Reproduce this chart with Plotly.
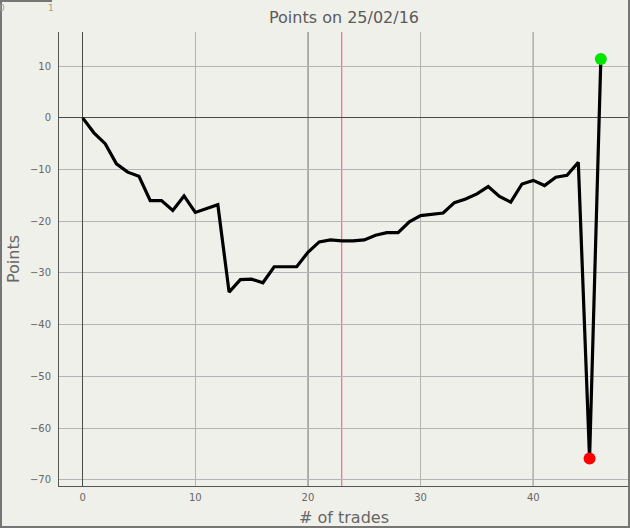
import plotly.graph_objects as go

# ---- data ----
trades = list(range(47))
points = [0, -2.9, -5.0, -8.9, -10.5, -11.3, -16.0, -16.0, -17.9, -15.1,
          -18.3, -17.6, -16.8, -33.7, -31.3, -31.2, -31.9, -28.8, -28.8, -28.8,
          -26.0, -24.0, -23.6, -23.8, -23.8, -23.6, -22.7, -22.2, -22.2, -20.1,
          -18.9, -18.7, -18.4, -16.4, -15.7, -14.7, -13.3, -15.2, -16.3, -12.8,
          -12.1, -13.1, -11.5, -11.1, -8.6, -65.9, 11.4]
marker_line_x = 23
major_grid_x = [20, 40]
title_text = "Points on 25/02/16"

BG = "#f0f0eb"
W, H = 630, 528
L, R, T, B = 59, 1, 32, 42
pw, ph = W - L - R, H - T - B

def px2paper_x(px):
    return (px - L) / pw

def px2paper_y(py):
    return (H - B - py) / ph

min_i = min(range(len(points)), key=lambda i: points[i])
last_i = len(points) - 1

fig = go.Figure()
fig.add_trace(go.Scatter(x=trades, y=points, mode="lines",
                         line=dict(color="black", width=3.2), showlegend=False,
                         hoverinfo="x+y"))
fig.add_trace(go.Scatter(x=[trades[min_i]], y=[points[min_i]], mode="markers",
                         marker=dict(color="#ff0000", size=12), showlegend=False))
fig.add_trace(go.Scatter(x=[trades[last_i]], y=[points[last_i]], mode="markers",
                         marker=dict(color="#00e600", size=12), showlegend=False))

shapes = []
for gx in major_grid_x:
    shapes.append(dict(type="line", xref="x", yref="paper", x0=gx, x1=gx, y0=0, y1=1,
                       line=dict(color="#4a4a4a", width=1), layer="below"))
shapes.append(dict(type="line", xref="x", yref="paper", x0=marker_line_x, x1=marker_line_x,
                   y0=0, y1=1, line=dict(color="#e8586e", width=1), layer="below"))
# outer frame
bc = "#767676"
shapes.append(dict(type="line", xref="paper", yref="paper",
                   x0=px2paper_x(1), x1=px2paper_x(1), y0=px2paper_y(0), y1=px2paper_y(H),
                   line=dict(color=bc, width=2)))
shapes.append(dict(type="line", xref="paper", yref="paper",
                   x0=px2paper_x(W - 1), x1=px2paper_x(W - 1), y0=px2paper_y(0), y1=px2paper_y(H),
                   line=dict(color=bc, width=2)))
shapes.append(dict(type="line", xref="paper", yref="paper",
                   x0=px2paper_x(0), x1=px2paper_x(W), y0=px2paper_y(H - 1), y1=px2paper_y(H - 1),
                   line=dict(color=bc, width=2)))
shapes.append(dict(type="line", xref="paper", yref="paper",
                   x0=px2paper_x(0), x1=px2paper_x(52), y0=px2paper_y(1), y1=px2paper_y(1),
                   line=dict(color=bc, width=2)))

annotations = [
    dict(text="Points", xref="paper", yref="paper", x=px2paper_x(13), y=0.5,
         xanchor="center", yanchor="middle", textangle=-90, showarrow=False,
         font=dict(family="DejaVu Sans", size=16, color="#666666")),
    dict(text="# of trades", xref="paper", yref="paper", x=0.5, y=px2paper_y(517),
         xanchor="center", yanchor="middle", showarrow=False,
         font=dict(family="DejaVu Sans", size=16, color="#666666")),
    dict(text="0", xref="paper", yref="paper", x=px2paper_x(2), y=px2paper_y(8),
         xanchor="center", yanchor="middle", showarrow=False,
         font=dict(family="DejaVu Sans", size=9, color="#9a9ab0")),
    dict(text="1", xref="paper", yref="paper", x=px2paper_x(51), y=px2paper_y(8),
         xanchor="center", yanchor="middle", showarrow=False,
         font=dict(family="DejaVu Sans", size=9, color="#a89a80")),
]

fig.update_layout(
    width=W, height=H,
    margin=dict(l=L, r=R, t=T, b=B, pad=0),
    paper_bgcolor=BG, plot_bgcolor=BG,
    title=dict(text=title_text, x=0.5, xref="paper", y=1 - 17 / H, yref="container",
               xanchor="center", yanchor="middle",
               font=dict(family="DejaVu Sans", size=16, color="#5a5a5a")),
    shapes=shapes, annotations=annotations,
    xaxis=dict(range=[-2.1, 48.5], tick0=0, dtick=10, showgrid=True,
               gridcolor="#b4b4b4", gridwidth=1, zeroline=True, zerolinecolor="#4a4a4a",
               zerolinewidth=1, showline=True, linecolor="#555555", linewidth=1,
               ticks="", tickfont=dict(family="DejaVu Sans", size=10, color="#666666"),
               ticklabelstandoff=2),
    yaxis=dict(range=[-71.2, 16.6], tick0=0, dtick=10, showgrid=True,
               gridcolor="#b4b4b4", gridwidth=1, zeroline=True, zerolinecolor="#4a4a4a",
               zerolinewidth=1, showline=True, linecolor="#555555", linewidth=1,
               ticks="", tickfont=dict(family="DejaVu Sans", size=10, color="#666666"),
               ticklabelstandoff=5),
)

fig.write_html("out.html",
               config={"displayModeBar": False},
               post_script="document.body.style.margin='0';document.body.style.padding='0';"
                           "document.documentElement.style.overflow='hidden';")
